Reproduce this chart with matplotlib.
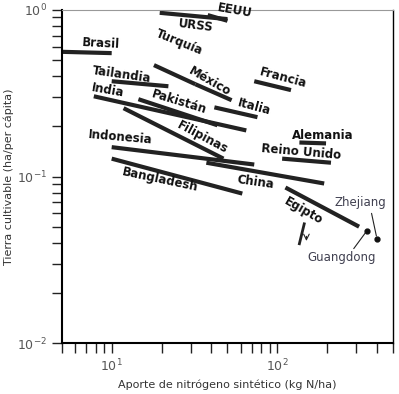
import matplotlib
matplotlib.use("Agg")
import matplotlib.pyplot as plt

# segmentos por país: (x0, x1), (y0, y1)
paises = ["Brasil", "URSS", "EEUU", "Turquía", "México", "Tailandia", "Francia",
          "Italia", "India", "Pakistán", "Filipinas", "Indonesia", "Bangladesh",
          "China", "Egipto", "Alemania", "Reino Unido"]
x0 = [5.0, 19.5, 38, 18, 32, 10, 72.6, 41.7, 7.8, 14.5, 11.8, 10, 10, 37.3, 112, 136, 107]
x1 = [10, 50, 50, 32, 53, 22, 121, 75.9, 65, 43.5, 47.3, 72.6, 61.5, 192, 312, 197, 211]
y0 = [0.56, 0.96, 0.93, 0.466, 0.358, 0.373, 0.373, 0.260, 0.303, 0.291, 0.257, 0.150, 0.128, 0.121, 0.0859, 0.160, 0.128]
y1 = [0.55, 0.88, 0.86, 0.358, 0.287, 0.348, 0.330, 0.227, 0.189, 0.203, 0.128, 0.118, 0.079, 0.0908, 0.050, 0.158, 0.121]

# etiquetas: posición y giro
lab_x = [8.6, 32.1, 55.8, 25.7, 38.9, 11.5, 109, 72.6, 9.46, 25.7, 35.3, 11.2, 19.7, 73.6, 143.5, 189, 140]
lab_y = [0.624, 0.80, 0.986, 0.642, 0.373, 0.411, 0.389, 0.260, 0.330, 0.279, 0.172, 0.172, 0.096, 0.092, 0.0624, 0.177, 0.141]
lab_rot = [-3, -7, -10, -22, -30, -8, -15, -15, -10, -17, -28, -5, -12, -8, -30, 0, -5]

# provincias chinas
prov = ["Guangdong", "Zhejiang"]
prov_x = [348, 400]
prov_y = [0.0473, 0.0423]
prov_tx = [243, 316]
prov_ty = [0.0325, 0.0697]

fig = plt.figure(figsize=(3.99, 3.94), dpi=100)
ax = fig.add_axes([0.155, 0.129, 0.83, 0.846])
ax.set_xscale("log")
ax.set_yscale("log")
ax.set_xlim(5, 500)
ax.set_ylim(0.01, 1)

for i in range(len(paises)):
    ax.plot([x0[i], x1[i]], [y0[i], y1[i]], color="#222222", lw=3, solid_capstyle="butt")
    ax.text(lab_x[i], lab_y[i], paises[i], rotation=lab_rot[i], ha="center", va="center",
            fontsize=8.5, fontweight="bold", color="#111111", clip_on=False)

# trazo corto bajo Egipto con flecha
ax.plot([145.5, 136], [0.052, 0.0395], color="#222222", lw=2)
ax.annotate("", xy=(150, 0.0395), xytext=(150, 0.0455),
            arrowprops=dict(arrowstyle="->", lw=0.8, color="#222222"))

for i in range(len(prov)):
    ax.plot(prov_x[i], prov_y[i], "o", ms=3.5, color="#111111")
    ax.text(prov_tx[i], prov_ty[i], prov[i], ha="center", va="center",
            fontsize=8.5, color="#404050")
ax.annotate("", xy=(prov_x[0], prov_y[0]), xytext=(283, 0.0358),
            arrowprops=dict(arrowstyle="-", lw=0.8, color="#222222"))
ax.annotate("", xy=(prov_x[1], prov_y[1]), xytext=(368, 0.0624),
            arrowprops=dict(arrowstyle="-", lw=0.8, color="#222222"))

ax.set_xlabel("Aporte de nitrógeno sintético (kg N/ha)", fontsize=8, color="#333333", labelpad=4)
ax.set_ylabel("Tierra cultivable (ha/per cápita)", fontsize=8, color="#333333", labelpad=2)

ax.tick_params(which="both", direction="out", length=7, width=1, colors="#222222",
               labelcolor="#555555", labelsize=9, top=False, right=False)
ax.spines["left"].set_linewidth(1.5)
ax.spines["bottom"].set_linewidth(1.5)
ax.spines["top"].set_color("#999999")
ax.spines["top"].set_linewidth(0.8)
ax.spines["right"].set_linewidth(1.0)

fig.savefig("out.png", dpi=100)
